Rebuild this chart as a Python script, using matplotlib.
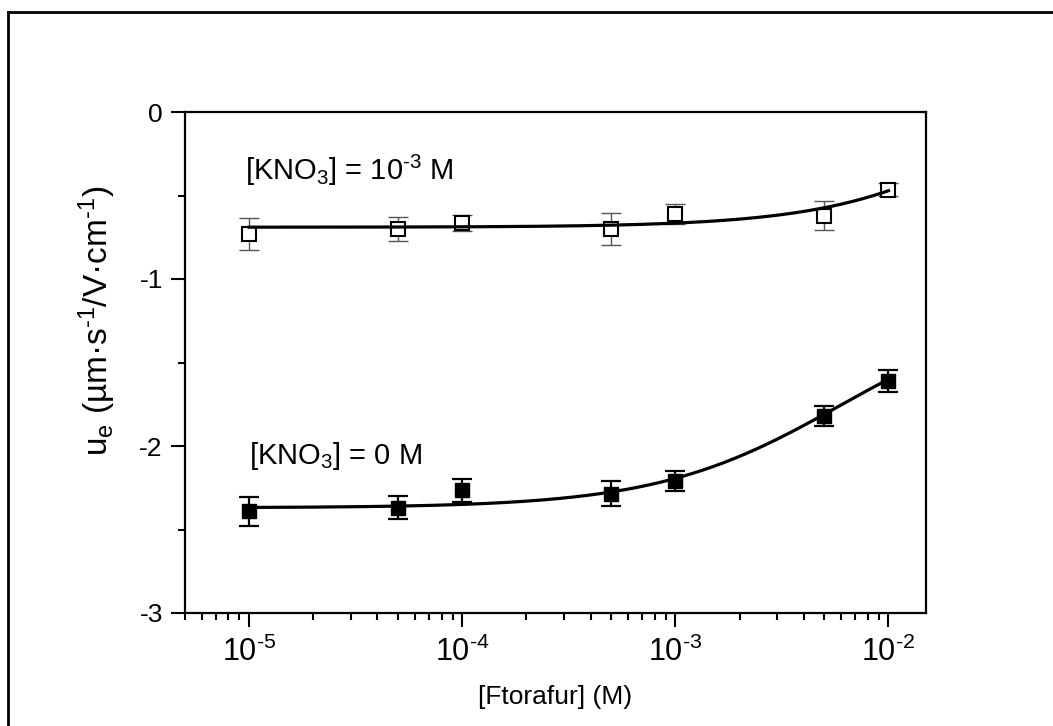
import numpy as np
import matplotlib
matplotlib.use("Agg")
import matplotlib.pyplot as plt
from matplotlib.lines import Line2D
from matplotlib.ticker import FixedLocator, FuncFormatter, LogLocator, NullFormatter, MultipleLocator

plt.rcParams['font.family'] = ['Liberation Sans', 'DejaVu Sans']
plt.rcParams['mathtext.fontset'] = 'custom'
plt.rcParams['mathtext.rm'] = 'Liberation Sans'
plt.rcParams['mathtext.it'] = 'Liberation Sans:italic'
plt.rcParams['mathtext.bf'] = 'Liberation Sans:bold'
plt.rcParams['axes.unicode_minus'] = False

# ---- data ----
conc = [1e-5, 5e-5, 1e-4, 5e-4, 1e-3, 5e-3, 1e-2]
ue_kno3_1e3 = [-0.73, -0.70, -0.665, -0.70, -0.61, -0.62, -0.465]
err_kno3_1e3 = [0.095, 0.07, 0.05, 0.095, 0.06, 0.085, 0.04]
ue_kno3_0 = [-2.39, -2.37, -2.265, -2.285, -2.21, -1.82, -1.61]
err_kno3_0 = [0.087, 0.068, 0.069, 0.073, 0.061, 0.062, 0.067]

# fitted curves: y = y0 + A*x/(K+x)
fit_1e3 = dict(y0=-0.69, A=1.75, K=0.07)
fit_0 = dict(y0=-2.37, A=1.232, K=0.006)

xticks = [1e-5, 1e-4, 1e-3, 1e-2]
yticks = [0, -1, -2, -3]

W, H = 1053, 726
fig = plt.figure(figsize=(W / 100, H / 100), dpi=100)
fig.patch.set_facecolor('white')

# outer frame (left and top edges visible)
fig.add_artist(Line2D([8 / W, 8 / W], [0, 1 - 12 / H], transform=fig.transFigure, color='black', lw=2))
fig.add_artist(Line2D([8 / W, 1], [1 - 12 / H, 1 - 12 / H], transform=fig.transFigure, color='black', lw=2))

left, right, top, bottom = 185, 926, 112, 613
ax = fig.add_axes([left / W, 1 - bottom / H, (right - left) / W, (bottom - top) / H])
ax.set_xscale('log')
ax.set_xlim(5.0e-6, 1.5e-2)
ax.set_ylim(-3, 0)

def curve(p, x):
    x = np.asarray(x)
    return p['y0'] + p['A'] * x / (p['K'] + x)

xs = np.logspace(np.log10(conc[0]), np.log10(conc[-1]), 300)

# upper series (open squares, gray error bars)
ax.errorbar(conc, ue_kno3_1e3, yerr=err_kno3_1e3, fmt='none', ecolor='#555555',
            elinewidth=1.0, capsize=7.5, capthick=1.0, zorder=2)
ax.plot(conc, ue_kno3_1e3, 's', ms=10, mfc='white', mec='black', mew=1.5, zorder=3)
ax.plot(xs, curve(fit_1e3, xs), color='black', lw=2.3, zorder=4)

# lower series (filled squares, black error bars)
ax.errorbar(conc, ue_kno3_0, yerr=err_kno3_0, fmt='none', ecolor='black',
            elinewidth=1.6, capsize=7.5, capthick=1.6, zorder=2)
ax.plot(conc, ue_kno3_0, 's', ms=10, mfc='black', mec='black', mew=1.0, zorder=3)
ax.plot(xs, curve(fit_0, xs), color='black', lw=2.3, zorder=4)

ax.text(9.6e-6, -0.35, r'[KNO$_\mathregular{3}$] = 10$^{\text{-3}}$ M', fontsize=21,
        ha='left', va='center')
ax.text(1.0e-5, -2.06, r'[KNO$_\mathregular{3}$] = 0 M', fontsize=21, ha='left', va='center')

# ticks
ax.xaxis.set_major_locator(FixedLocator(xticks))
ax.xaxis.set_major_formatter(FuncFormatter(
    lambda v, p: r'$\mathregular{10}^{\text{-%d}}$' % abs(int(round(np.log10(v))))))
ax.xaxis.set_minor_locator(LogLocator(base=10, subs=np.arange(2, 10)))
ax.xaxis.set_minor_formatter(NullFormatter())
ax.yaxis.set_major_locator(FixedLocator(yticks))
ax.yaxis.set_major_formatter(FuncFormatter(lambda v, p: '%d' % v))
ax.yaxis.set_minor_locator(MultipleLocator(0.5))

ax.tick_params(which='both', direction='out', top=False, right=False, width=1.5, colors='black')
ax.tick_params(which='major', length=10)
ax.tick_params(which='minor', length=5)
ax.tick_params(axis='x', which='major', labelsize=22, pad=7)
ax.tick_params(axis='y', which='major', labelsize=19, pad=6)

for s in ax.spines.values():
    s.set_linewidth(1.6)

ax.set_xlabel('[Ftorafur] (M)', fontsize=19, labelpad=12)
fig.text(97 / W, 1 - 321 / H,
         r'u$_\mathregular{e}$ (µm·s$^{\text{-1}}$/V·cm$^{\text{-1}}$)',
         rotation=90, fontsize=24, ha='center', va='center')

fig.savefig('out.png', dpi=100, facecolor='white')
